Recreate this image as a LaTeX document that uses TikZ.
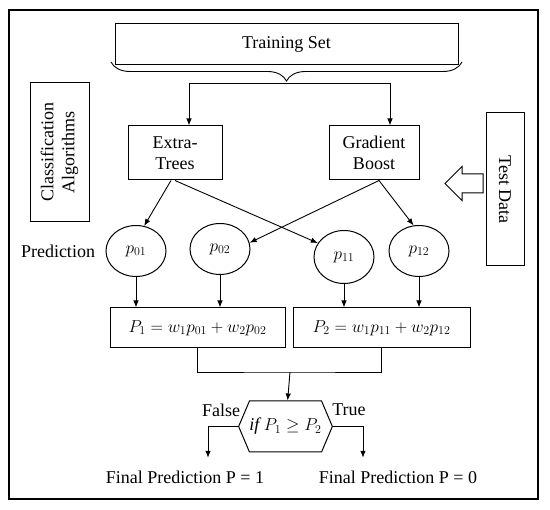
\documentclass[tikz,border=0pt]{standalone}
\usepackage{fontspec}
\setmainfont{Liberation Serif}
\usetikzlibrary{arrows.meta,positioning,shapes.geometric,shapes.symbols,decorations.pathreplacing}

\begin{document}
\begin{tikzpicture}[x=1pt,y=-1pt,
        every node/.style={font=\fontsize{18}{21}\selectfont},
        box/.style={rectangle,draw,line width=1pt,align=center,inner sep=2pt},
        pred/.style={ellipse,draw,line width=1pt,minimum width=60pt,minimum height=51pt,inner sep=0pt},
        cond/.style={signal,draw,line width=1pt,signal to=west and east,signal pointer angle=134,
          minimum width=89pt,minimum height=51pt,inner sep=0pt},
        arrow/.style={-{Latex[length=7pt,width=5.5pt]},line width=0.9pt},
        link/.style={line width=0.9pt}]
        \useasboundingbox (0,0) rectangle (550,510);
        \draw[line width=1.8pt] (9,10) rectangle (538,499);
        \node[box,minimum width=343pt,minimum height=41pt] (train) at (286.5,44.5) {Training Set};
        \draw[link,decorate,decoration={brace,mirror,amplitude=19pt}] (111,62) -- (462,62);
        \coordinate (brtip) at (286.5,83);
        \node[box,minimum width=94pt,minimum height=54pt] (extra) at (175,153) {Extra-\\Trees};
        \node[box,minimum width=90pt,minimum height=54pt] (grad) at (374,153) {Gradient\\Boost};
        \draw[arrow] (brtip) -| ([xshift=14pt]extra.north);
        \draw[arrow] (brtip) -| ([xshift=16pt]grad.north);
        \node[box,rotate=90,minimum width=139pt,minimum height=59pt] (algo) at (59.5,152.5) {Classification\\Algorithms};
        \node[box,rotate=-90,minimum width=153pt,minimum height=38pt] (test) at (505,189.5) {Test Data};
        % hollow arrow from the test data
        \draw[line width=1pt] (445,183.5) -- (462,166.5) -- (462,174) -- (483,174) -- (483,193)
          -- (462,193) -- (462,200.5) -- cycle;
        \node (predlbl) at (58,251) {Prediction};
        \node[pred] (p01) at (136,251) {$p_{01}$};
        \node[pred] (p02) at (220,249) {$p_{02}$};
        \node[pred,minimum height=53pt] (p11) at (344,257) {$p_{11}$};
        \node[pred] (p12) at (419,251) {$p_{12}$};
        \draw[arrow] ([xshift=-4pt]extra.south) -- (p01.72);
        \draw[arrow] (extra.south) -- (p11.152);
        \draw[arrow] ([xshift=5pt]grad.south) -- (p02.12);
        \draw[arrow] ([xshift=5pt]grad.south) -- (p12.102);
        \node[box,minimum width=175pt,minimum height=40pt] (sum1) at (197.5,328) {$P_1 = w_1p_{01} + w_2p_{02}$};
        \node[box,minimum width=177pt,minimum height=40pt] (sum2) at (381.5,328) {$P_2 = w_1p_{11} + w_2p_{12}$};
        \draw[arrow] (p01) -- (p01 |- sum1.north);
        \draw[arrow] (p02) -- (p02 |- sum1.north);
        \draw[arrow] (p11) -- (p11 |- sum2.north);
        \draw[arrow] (p12) -- (p12 |- sum2.north);
        \coordinate (join) at (290,372);
        \draw[link] (sum1.south) |- (join) -| (sum2.south);
        \node[cond] (check) at (285.5,426.5) {$\mathit{if}\ P_1 \geq P_2$};
        \draw[arrow] (join) -- (check);
        \node (nolbl) at (221,410) {False};
        \node (yeslbl) at (349,410) {True};
        \node[minimum height=38pt] (final1) at (185,477) {Final Prediction P = 1};
        \node[minimum height=38pt] (final0) at (398,477) {Final Prediction P = 0};
        \draw[arrow] (check.west) -| ([xshift=23pt]final1.north);
        \draw[arrow] (check.east) -| ([xshift=-35pt]final0.north);
      \end{tikzpicture}
\end{document}
